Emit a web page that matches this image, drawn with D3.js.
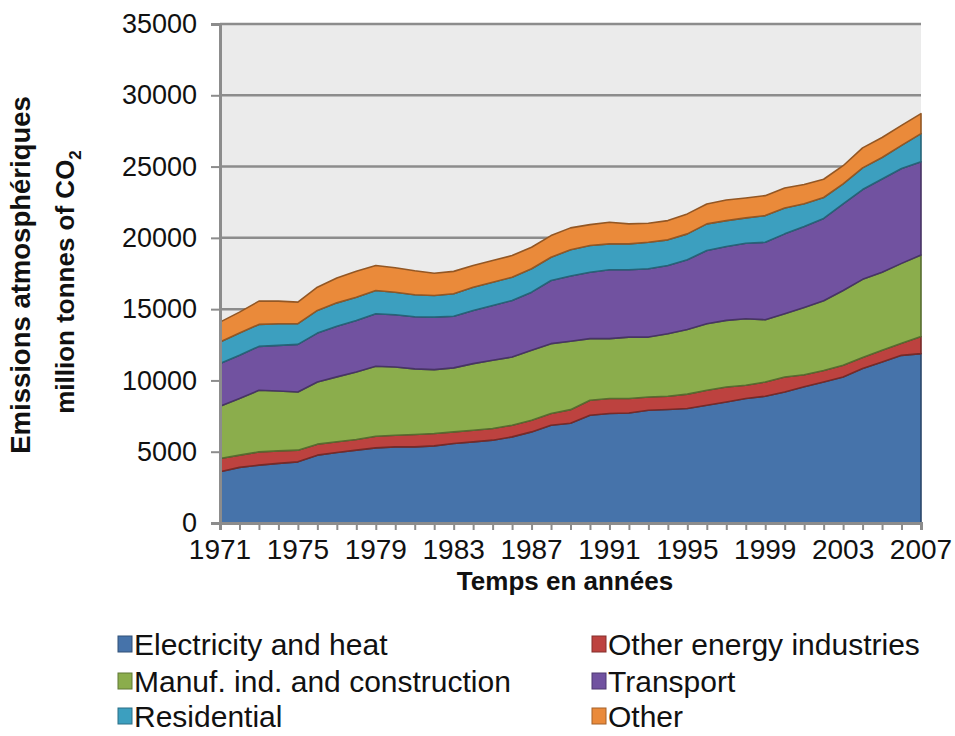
<!DOCTYPE html>
<html>
<head>
<meta charset="utf-8">
<script src="https://cdn.jsdelivr.net/npm/d3@7"></script>
<style>
  body { margin: 0; background: #fff; }
  svg text { font-family: "Liberation Sans", Arial, sans-serif; fill: #111; }
</style>
</head>
<body>
<div class="chart"></div>
<script>
var years = d3.range(1971, 2008);
var tickYears = [1971, 1975, 1979, 1983, 1987, 1991, 1995, 1999, 2003, 2007];
var yTicks = [0, 5000, 10000, 15000, 20000, 25000, 30000, 35000];

var seriesNames = ["Electricity and heat", "Other energy industries", "Manuf. ind. and construction",
                   "Transport", "Residential", "Other"];
var seriesColors = ["#4673aa", "#bd423f", "#8bad4c", "#7152a0", "#3c9fbf", "#ea8a3a"];

var electricity = [3590,3900,4060,4180,4290,4760,4940,5110,5270,5340,5340,5410,5580,5690,5810,6040,6390,6860,
                   7000,7560,7680,7720,7910,7960,8030,8260,8490,8730,8890,9190,9550,9890,10240,10830,11290,11760,11880];
var otherEnergy = [940,860,930,880,820,770,760,750,820,820,870,870,810,820,820,820,820,820,
                   950,1050,1050,1010,930,930,1010,1050,1050,930,1000,1050,850,800,820,780,820,850,1200];
var manufacturing = [3660,3970,4320,4200,4080,4360,4550,4730,4900,4780,4600,4480,4490,4670,4780,4780,4900,4900,
                     4800,4320,4200,4310,4200,4390,4530,4670,4670,4670,4370,4440,4720,4900,5250,5480,5480,5600,5720];
var transport = [2990,3030,3080,3200,3340,3430,3550,3620,3690,3670,3660,3680,3620,3730,3850,3970,4080,4430,
                 4570,4660,4830,4720,4790,4780,4900,5130,5180,5290,5430,5600,5670,5770,6070,6300,6540,6650,6530];
var residential = [1510,1560,1540,1520,1450,1590,1640,1630,1630,1580,1540,1520,1580,1630,1630,1630,1640,1630,
                   1850,1870,1820,1820,1860,1800,1810,1870,1820,1780,1870,1820,1600,1470,1400,1520,1510,1630,1980];
var other = [1400,1470,1630,1580,1510,1630,1740,1820,1750,1710,1680,1560,1570,1520,1520,1520,1510,1520,
             1530,1470,1510,1400,1330,1350,1400,1400,1450,1400,1400,1400,1350,1280,1280,1400,1400,1400,1400];

var seriesValues = [electricity, otherEnergy, manufacturing, transport, residential, other];

var width = 955, height = 736;
var plot = { left: 220, right: 921, top: 24, bottom: 523 };

var svg = d3.select(".chart").append("svg")
    .attr("width", width)
    .attr("height", height);

var x = d3.scaleLinear().domain([1971, 2007]).range([plot.left, plot.right]);
var y = d3.scaleLinear().domain([0, 35000]).range([plot.bottom, plot.top]);

// one row per year for d3.stack
var rows = years.map(function(yr, i) {
  var r = { year: yr };
  seriesValues.forEach(function(s, k) { r[k] = s[i]; });
  return r;
});
var layers = d3.stack().keys(d3.range(seriesNames.length))(rows);

// plot background
svg.append("rect")
    .attr("x", plot.left).attr("y", plot.top)
    .attr("width", plot.right - plot.left).attr("height", plot.bottom - plot.top)
    .style("fill", "#ebebeb");

// gridlines
svg.append("g").selectAll("line")
    .data(yTicks.filter(function(d) { return d > 0; }))
    .enter().append("line")
    .attr("x1", plot.left).attr("x2", plot.right)
    .attr("y1", function(d) { return y(d); }).attr("y2", function(d) { return y(d); })
    .style("stroke", "#8c8c8c").style("stroke-width", 2.5);

var area = d3.area()
    .x(function(d) { return x(d.data.year); })
    .y0(function(d) { return y(d[0]); })
    .y1(function(d) { return y(d[1]); });

svg.append("g").selectAll("path")
    .data(layers)
    .enter().append("path")
    .attr("d", area)
    .style("fill", function(d) { return seriesColors[d.key]; })
    .style("stroke", function(d) { return d3.color(seriesColors[d.key]).darker(1.3); })
    .style("stroke-width", 1.6)
    .style("stroke-linejoin", "round");

// y axis
var yAxis = svg.append("g")
    .attr("transform", "translate(" + plot.left + ",0)")
    .call(d3.axisLeft(y).tickValues(yTicks).tickSize(9).tickPadding(14).tickFormat(d3.format("d")));
yAxis.select(".domain").style("stroke", "#8c8c8c").style("stroke-width", 3);
yAxis.selectAll(".tick line").style("stroke", "#8c8c8c").style("stroke-width", 2);
yAxis.selectAll("text").style("font-size", "27px").style("fill", "#111");

// x axis, a tick for every year
var xAxis = svg.append("g")
    .attr("transform", "translate(0," + plot.bottom + ")")
    .call(d3.axisBottom(x).tickValues(years).tickSize(7).tickFormat(""));
xAxis.select(".domain").style("stroke", "#8c8c8c").style("stroke-width", 3);
xAxis.selectAll(".tick line").style("stroke", "#8c8c8c").style("stroke-width", 2);

svg.append("g").selectAll("text")
    .data(tickYears)
    .enter().append("text")
    .attr("x", function(d) { return x(d); })
    .attr("y", 559)
    .style("text-anchor", "middle")
    .style("font-size", "28px")
    .text(function(d) { return d; });

// axis titles
svg.append("text")
    .attr("x", 565).attr("y", 590)
    .style("text-anchor", "middle")
    .style("font-size", "26px").style("font-weight", "bold")
    .text("Temps en années");

svg.append("text")
    .attr("transform", "translate(30,275) rotate(-90)")
    .style("text-anchor", "middle")
    .style("font-size", "27.5px").style("font-weight", "bold")
    .text("Emissions atmosphériques");

var t2 = svg.append("text")
    .attr("transform", "translate(74,282) rotate(-90)")
    .style("text-anchor", "middle")
    .style("font-size", "26px").style("font-weight", "bold");
t2.append("tspan").text("million tonnes  of CO");
t2.append("tspan").attr("dy", 7).style("font-size", "17px").text("2");

// legend, two columns of three
var legendPos = [[118, 655], [592, 655], [118, 692], [592, 692], [118, 727], [592, 727]];
var legend = svg.append("g").selectAll(".legend")
    .data(seriesNames)
    .enter().append("g")
    .attr("class", "legend")
    .attr("transform", function(d, i) { return "translate(" + legendPos[i][0] + "," + legendPos[i][1] + ")"; });

legend.append("rect")
    .attr("x", 0).attr("y", -19)
    .attr("width", 14).attr("height", 16)
    .style("fill", function(d, i) { return seriesColors[i]; })
    .style("stroke", function(d, i) { return d3.color(seriesColors[i]).darker(1); })
    .style("stroke-width", 1);

legend.append("text")
    .attr("x", 16).attr("y", 0)
    .style("font-size", "30px")
    .text(function(d) { return d; });
</script>
</body>
</html>
